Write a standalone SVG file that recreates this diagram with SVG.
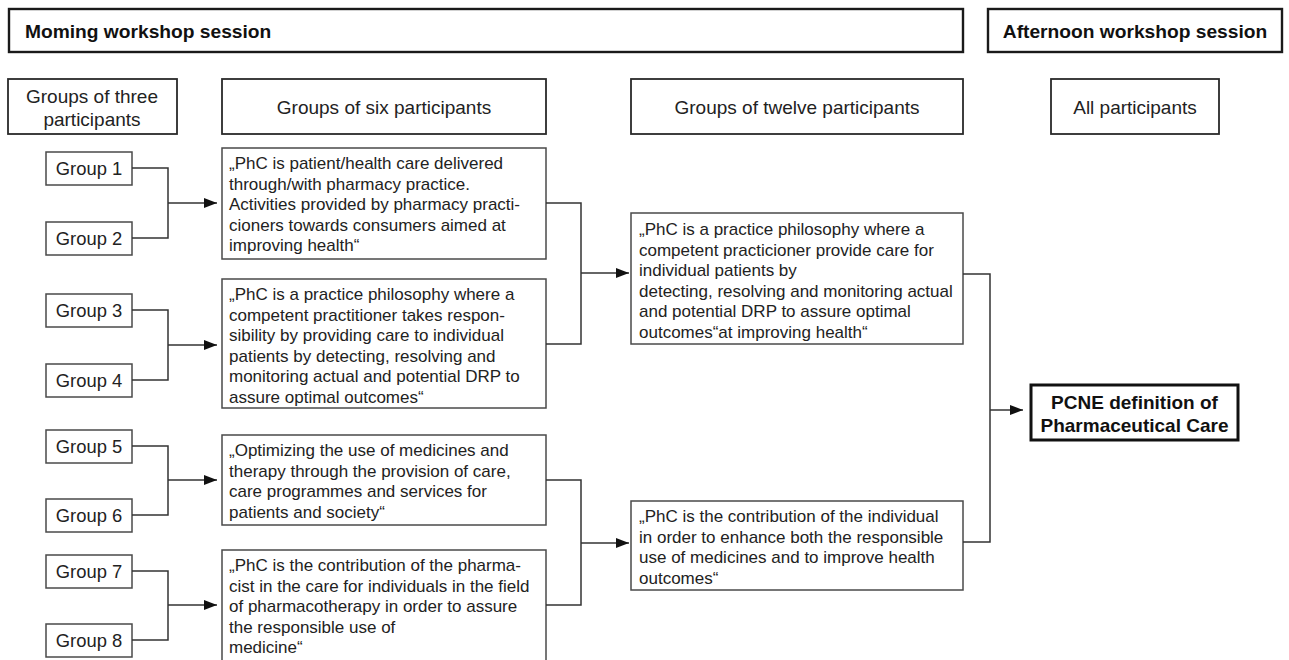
<svg xmlns="http://www.w3.org/2000/svg" width="1289" height="660" viewBox="0 0 1289 660">
  <defs>
    <marker id="arrow" viewBox="0 0 13 10" refX="13" refY="5" markerWidth="13" markerHeight="10" markerUnits="userSpaceOnUse" orient="auto">
      <path d="M0,0 L13,5 L0,10 z" fill="#111"/>
    </marker>
    <style>
      .session { fill: #fff; stroke: #1a1a1a; stroke-width: 2.4; }
      .head { fill: #fff; stroke: #2a2a2a; stroke-width: 1.8; }
      .box { fill: #fff; stroke: #4a4a4a; stroke-width: 1.5; }
      .final { fill: #fff; stroke: #111; stroke-width: 3; }
      .t { font-family: "Liberation Sans", Arial, sans-serif; fill: #222; }
      .bold { font-weight: bold; fill: #111; }
      .hd { font-size: 19px; }
      .grp { font-size: 18.4px; }
      .body { font-size: 17px; }
      .mid { text-anchor: middle; }
      .wire { fill: none; stroke: #333; stroke-width: 1.5; }
    </style>
  </defs>
  <rect width="1289" height="660" fill="#fff"/>

  <!-- session banners -->
  <g id="morning">
    <rect class="session" x="9" y="9" width="954" height="43"/>
    <text class="t bold" x="25" y="38" font-size="19.2">Moming workshop session</text>
  </g>
  <g id="afternoon">
    <rect class="session" x="988" y="9" width="294" height="43"/>
    <text class="t bold mid" x="1135" y="38" font-size="19.2">Afternoon workshop session</text>
  </g>

  <!-- column headings -->
  <g id="head-three">
    <rect class="head" x="8" y="79" width="169" height="55"/>
    <text class="t hd mid" x="92" y="103">Groups of three</text>
    <text class="t hd mid" x="92" y="126">participants</text>
  </g>
  <g id="head-six">
    <rect class="head" x="222" y="79" width="324" height="55"/>
    <text class="t hd mid" x="384" y="114">Groups of six participants</text>
  </g>
  <g id="head-twelve">
    <rect class="head" x="631" y="79" width="332" height="55"/>
    <text class="t hd mid" x="797" y="114">Groups of twelve participants</text>
  </g>
  <g id="head-all">
    <rect class="head" x="1051" y="79" width="168" height="55"/>
    <text class="t hd mid" x="1135" y="114">All participants</text>
  </g>

  <!-- groups of three -->
  <g id="group1"><rect class="box" x="46" y="152" width="86" height="33"/><text class="t grp mid" x="89" y="175">Group 1</text></g>
  <g id="group2"><rect class="box" x="46" y="222" width="86" height="33"/><text class="t grp mid" x="89" y="245">Group 2</text></g>
  <g id="group3"><rect class="box" x="46" y="294" width="86" height="33"/><text class="t grp mid" x="89" y="317">Group 3</text></g>
  <g id="group4"><rect class="box" x="46" y="364" width="86" height="33"/><text class="t grp mid" x="89" y="387">Group 4</text></g>
  <g id="group5"><rect class="box" x="46" y="430" width="86" height="33"/><text class="t grp mid" x="89" y="453">Group 5</text></g>
  <g id="group6"><rect class="box" x="46" y="499" width="86" height="33"/><text class="t grp mid" x="89" y="522">Group 6</text></g>
  <g id="group7"><rect class="box" x="46" y="555" width="86" height="33"/><text class="t grp mid" x="89" y="578">Group 7</text></g>
  <g id="group8"><rect class="box" x="46" y="624" width="86" height="33"/><text class="t grp mid" x="89" y="647">Group 8</text></g>

  <!-- groups of six -->
  <g id="six-a">
    <rect class="box" x="222" y="148" width="324" height="111"/>
    <text class="t body" x="229" y="169">„PhC is patient/health care delivered</text>
    <text class="t body" x="229" y="189.5">through/with pharmacy practice.</text>
    <text class="t body" x="229" y="210">Activities provided by pharmacy practi-</text>
    <text class="t body" x="229" y="230.5">cioners towards consumers aimed at</text>
    <text class="t body" x="229" y="251">improving health“</text>
  </g>
  <g id="six-b">
    <rect class="box" x="222" y="279" width="324" height="129"/>
    <text class="t body" x="229" y="300">„PhC is a practice philosophy where a</text>
    <text class="t body" x="229" y="320.5">competent practitioner takes respon-</text>
    <text class="t body" x="229" y="341">sibility by providing care to individual</text>
    <text class="t body" x="229" y="361.5">patients by detecting, resolving and</text>
    <text class="t body" x="229" y="382">monitoring actual and potential DRP to</text>
    <text class="t body" x="229" y="402.5">assure optimal outcomes“</text>
  </g>
  <g id="six-c">
    <rect class="box" x="222" y="435" width="324" height="90"/>
    <text class="t body" x="229" y="456">„Optimizing the use of medicines and</text>
    <text class="t body" x="229" y="476.5">therapy through the provision of care,</text>
    <text class="t body" x="229" y="497">care programmes and services for</text>
    <text class="t body" x="229" y="517.5">patients and society“</text>
  </g>
  <g id="six-d">
    <rect class="box" x="222" y="550" width="324" height="120"/>
    <text class="t body" x="229" y="571">„PhC is the contribution of the pharma-</text>
    <text class="t body" x="229" y="591.5">cist in the care for individuals in the field</text>
    <text class="t body" x="229" y="612">of pharmacotherapy in order to assure</text>
    <text class="t body" x="229" y="632.5">the responsible use of</text>
    <text class="t body" x="229" y="653">medicine“</text>
  </g>

  <!-- groups of twelve -->
  <g id="twelve-a">
    <rect class="box" x="631" y="213" width="332" height="131"/>
    <text class="t body" x="639" y="235">„PhC is a practice philosophy where a</text>
    <text class="t body" x="639" y="255.5">competent practicioner provide care for</text>
    <text class="t body" x="639" y="276">individual patients by</text>
    <text class="t body" x="639" y="296.5">detecting, resolving and monitoring actual</text>
    <text class="t body" x="639" y="317">and potential DRP to assure optimal</text>
    <text class="t body" x="639" y="337.5">outcomes“at improving health“</text>
  </g>
  <g id="twelve-b">
    <rect class="box" x="631" y="501" width="332" height="89"/>
    <text class="t body" x="639" y="522">„PhC is the contribution of the individual</text>
    <text class="t body" x="639" y="542.5">in order to enhance both the responsible</text>
    <text class="t body" x="639" y="563">use of medicines and to improve health</text>
    <text class="t body" x="639" y="583.5">outcomes“</text>
  </g>

  <!-- final definition -->
  <g id="pcne">
    <rect class="final" x="1031" y="385" width="207" height="55"/>
    <text class="t bold mid" x="1134.5" y="409" font-size="19">PCNE definition of</text>
    <text class="t bold mid" x="1134.5" y="432" font-size="19">Pharmaceutical Care</text>
  </g>

  <!-- connectors -->
  <g id="connectors">
    <path class="wire" d="M132,168 H168 V238 H132"/>
    <path class="wire" d="M168,203 H217" marker-end="url(#arrow)"/>
    <path class="wire" d="M132,310 H168 V380 H132"/>
    <path class="wire" d="M168,345 H217" marker-end="url(#arrow)"/>
    <path class="wire" d="M132,446 H168 V515 H132"/>
    <path class="wire" d="M168,480 H217" marker-end="url(#arrow)"/>
    <path class="wire" d="M132,571 H168 V640 H132"/>
    <path class="wire" d="M168,605 H217" marker-end="url(#arrow)"/>

    <path class="wire" d="M546,203 H581 V344 H546"/>
    <path class="wire" d="M581,273 H629" marker-end="url(#arrow)"/>
    <path class="wire" d="M546,480 H581 V605 H546"/>
    <path class="wire" d="M581,543 H629" marker-end="url(#arrow)"/>

    <path class="wire" d="M963,274 H990 V542 H963"/>
    <path class="wire" d="M990,410 H1023" marker-end="url(#arrow)"/>
  </g>
</svg>
